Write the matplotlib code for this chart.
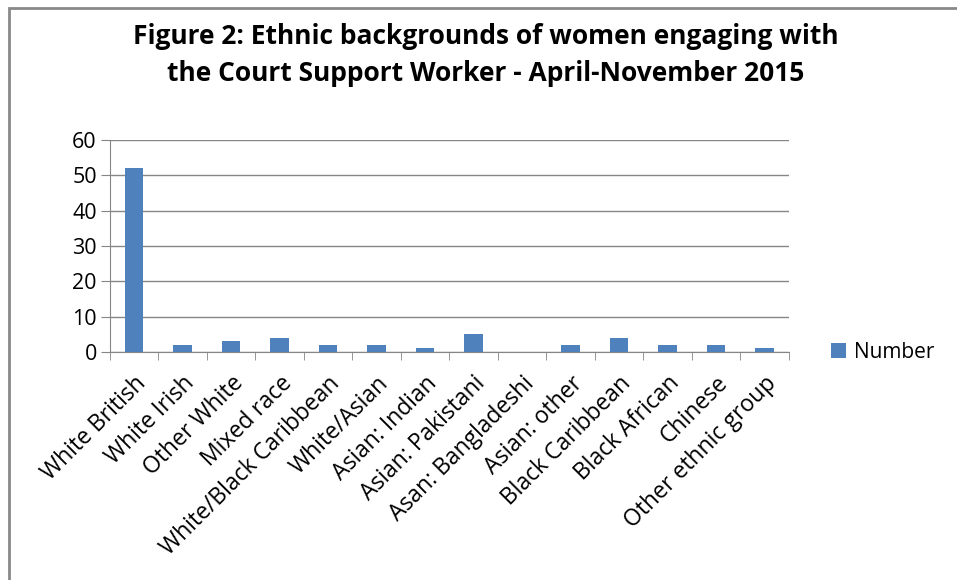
import matplotlib.pyplot as plt
from matplotlib.patches import Rectangle

# Data
#---------------------------
categories = ["White British", "White Irish", "Other White", "Mixed race",
              "White/Black Caribbean", "White/Asian", "Asian: Indian",
              "Asian: Pakistani", "Asan: Bangladeshi", "Asian: other",
              "Black Caribbean", "Black African", "Chinese", "Other ethnic group"]
number = [52, 2, 3, 4, 2, 2, 1, 5, 0, 2, 4, 2, 2, 1]
y_ticks = [0, 10, 20, 30, 40, 50, 60]

plt.rcParams['font.family'] = ['Open Sans', 'DejaVu Sans']

fig = plt.figure(figsize=(9.57, 5.8), dpi=100)
ax = fig.add_axes([0.1149, 0.3931, 0.7095, 0.3655])

x = range(len(categories))
ax.bar(x, number, width=0.38, color="#4F81BD", label="Number", zorder=3)

ax.set_xlim(-0.5, len(categories) - 0.5)
ax.set_ylim(0, 60)
ax.set_yticks(y_ticks)
ax.yaxis.grid(True, color="#868686", linewidth=1.0, zorder=0)
ax.tick_params(axis='y', length=6.5, color="#868686", labelsize=15.5, pad=3)

# category labels at centres, tick marks on boundaries
ax.set_xticks(list(x))
ax.set_xticklabels(categories, rotation=45, ha='right', rotation_mode='anchor', fontsize=16.5)
ax.tick_params(axis='x', length=0, pad=14)
ax.set_xticks([i - 0.5 for i in range(len(categories) + 1)], minor=True)
ax.tick_params(axis='x', which='minor', length=5.5, color="#868686")

for s in ["top", "right"]:
    ax.spines[s].set_visible(False)
for s in ["left", "bottom"]:
    ax.spines[s].set_color("#868686")

ax.legend(loc='center left', bbox_to_anchor=(1.035, 0.0), frameon=False,
          fontsize=15, handlelength=0.7, handleheight=0.7, handletextpad=0.4)

fig.text(0.508, 0.905, "Figure 2: Ethnic backgrounds of women engaging with\nthe Court Support Worker - April-November 2015",
         ha='center', va='center', fontsize=19, fontweight='bold', linespacing=1.45)

# outer chart frame
fig.patches.append(Rectangle((0.009, -0.05), 1.1, 1.036, transform=fig.transFigure,
                             fill=False, edgecolor="#898989", linewidth=2))

fig.savefig("out.png", dpi=100)
